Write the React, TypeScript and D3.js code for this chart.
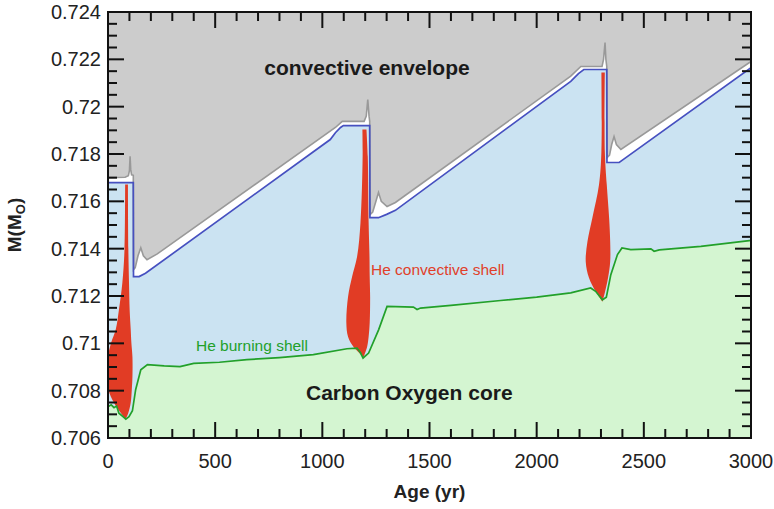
import React from "react";
import * as d3 from "d3";

// Thermal-pulse structure of an AGB star: mass coordinate vs age.

const ageTicks = [0, 500, 1000, 1500, 2000, 2500, 3000];
const massTicks = [0.706, 0.708, 0.71, 0.712, 0.714, 0.716, 0.718, 0.72, 0.722, 0.724];
const massTickLabels = ["0.706", "0.708", "0.71", "0.712", "0.714", "0.716", "0.718", "0.72", "0.722", "0.724"];

// Bottom of the convective envelope [age (yr), mass (Msun)]
const envelopeBase: [number, number][] = [
  [0, 0.717], [80, 0.71702], [95, 0.71708], [100, 0.7173], [103, 0.7179], [106, 0.71735],
  [110, 0.71712], [118, 0.7171], [119, 0.71311], [127, 0.7132], [140, 0.7137], [153, 0.71404],
  [165, 0.7137], [182, 0.71353], [230, 0.71378], [1061, 0.71912], [1093, 0.71938],
  [1195, 0.71938], [1205, 0.7196], [1212, 0.7203], [1218, 0.7196], [1221, 0.71938],
  [1223, 0.71544], [1235, 0.71555], [1250, 0.716], [1262, 0.71637], [1275, 0.716],
  [1302, 0.71578], [1341, 0.71595], [2159, 0.72129], [2206, 0.7217], [2305, 0.7217],
  [2312, 0.722], [2319, 0.72271], [2323, 0.722], [2327, 0.7217], [2329, 0.71785],
  [2340, 0.71795], [2350, 0.7184], [2361, 0.71874], [2372, 0.7184], [2393, 0.71819],
  [3000, 0.72191],
];

// H-free core boundary (hydrogen burning shell)
const hShell: [number, number][] = [
  [0, 0.71679], [118, 0.71679], [119, 0.71282], [145, 0.71282], [175, 0.71296],
  [1037, 0.71861], [1061, 0.7189], [1085, 0.71912], [1098, 0.7192], [1221, 0.7192],
  [1222, 0.71531], [1262, 0.71531], [1300, 0.71545], [1341, 0.71562], [2159, 0.72107],
  [2195, 0.7214], [2220, 0.72157], [2327, 0.72157], [2328, 0.71764], [2385, 0.71764],
  [2400, 0.71774], [3000, 0.72165],
];

// He burning shell (top of the C/O core)
const heShell: [number, number][] = [
  [0, 0.70732], [15, 0.7074], [28, 0.70728], [40, 0.70735], [51, 0.70705], [70, 0.7069],
  [83, 0.7068], [98, 0.7069], [114, 0.70715], [129, 0.70804], [153, 0.70888], [184, 0.7091],
  [262, 0.70905], [336, 0.70902], [400, 0.70915], [520, 0.7092], [648, 0.70931],
  [800, 0.7094], [958, 0.70952], [1115, 0.70977], [1162, 0.7098], [1178, 0.7096],
  [1190, 0.70938], [1216, 0.70959], [1263, 0.71058], [1302, 0.71156], [1425, 0.71153],
  [1442, 0.71143], [1458, 0.71149], [1600, 0.7116], [1832, 0.71181], [2000, 0.71195],
  [2159, 0.71213], [2252, 0.71234], [2275, 0.7122], [2307, 0.71184], [2325, 0.71195],
  [2346, 0.7129], [2377, 0.71375], [2398, 0.71403], [2439, 0.71396], [2533, 0.71399],
  [2548, 0.71389], [2572, 0.71395], [2766, 0.7141], [2992, 0.71434], [3000, 0.71435],
];

// He convective shells: [mass, start age, end age]
const pulse1: [number, number, number][] = [
  [0.70681, 83, 83], [0.70707, 59, 95], [0.70749, 28, 106], [0.70804, 2, 111],
  [0.70859, 0, 114], [0.70943, 0, 114], [0.71003, 15, 109], [0.71058, 36, 106],
  [0.71142, 51, 101], [0.71256, 67, 98], [0.71396, 77, 95], [0.71671, 80, 93],
];
const pulse2: [number, number, number][] = [
  [0.70943, 1193, 1193], [0.70986, 1145, 1209], [0.71028, 1120, 1216], [0.71087, 1112, 1221],
  [0.71197, 1120, 1223], [0.71282, 1139, 1221], [0.71366, 1162, 1220], [0.7151, 1178, 1216],
  [0.71789, 1188, 1212], [0.71903, 1187, 1206],
];
const pulse3: [number, number, number][] = [
  [0.71176, 2307, 2307], [0.71218, 2276, 2319], [0.71277, 2244, 2333], [0.71345, 2229, 2343],
  [0.7143, 2237, 2343], [0.71531, 2260, 2338], [0.71671, 2291, 2327], [0.7181, 2302, 2318],
  [0.72144, 2302, 2318],
];

const W = 774;
const H = 509;
const L = 108, R = 751, T = 12, B = 438;
const FONT = "'Liberation Sans', Arial, Helvetica, sans-serif";

export default function App() {
  const x = d3.scaleLinear().domain([0, 3000]).range([L, R]);
  const y = d3.scaleLinear().domain([0.706, 0.724]).range([B, T]);

  const above = d3.area<[number, number]>().x((d) => x(d[0])).y0(T - 5).y1((d) => y(d[1]));
  const below = d3.area<[number, number]>().x((d) => x(d[0])).y0(B + 5).y1((d) => y(d[1]));
  const line = d3.line<[number, number]>().x((d) => x(d[0])).y((d) => y(d[1]));
  const shell = d3
    .area<[number, number, number]>()
    .y((d) => y(d[0]))
    .x0((d) => x(d[1]))
    .x1((d) => x(d[2]))
    .curve(d3.curveCatmullRom.alpha(0.5));

  const xMinor = d3.range(0, 3001, 100);
  const yMinor = d3.range(0, 37).map((i) => 0.706 + i * 0.0005);
  const isMajorX = (v: number) => v % 500 === 0;
  const isMajorY = (v: number) => Math.abs((v - 0.706) / 0.002 - Math.round((v - 0.706) / 0.002)) < 1e-6;
  const MAJ = 16, MIN = 9;

  return (
    <svg width={W} height={H} style={{ display: "block", position: "absolute", left: 0, top: 0 }} fontFamily={FONT}>
      <defs>
        <clipPath id="plot">
          <rect x={L} y={T} width={R - L} height={B - T} />
        </clipPath>
      </defs>
      <rect width={W} height={H} fill="#fff" />
      <g clipPath="url(#plot)">
        <rect x={L} y={T} width={R - L} height={B - T} fill="#cbe3f2" />
        <path d={above(hShell) || ""} fill="#ffffff" />
        <path d={above(envelopeBase) || ""} fill="#cccccc" />
        <path d={below(heShell) || ""} fill="#d4f5d1" />
        {[pulse1, pulse2, pulse3].map((p, i) => (
          <path key={i} d={shell(p) || ""} fill="#e13c25" />
        ))}
        <path d={line(envelopeBase) || ""} fill="none" stroke="#999" strokeWidth={1.6} />
        <path d={line(hShell) || ""} fill="none" stroke="#4650c0" strokeWidth={1.7} />
        <path d={line(heShell) || ""} fill="none" stroke="#22a02a" strokeWidth={1.7} />
      </g>

      {/* ticks on all four sides, pointing inward */}
      <g stroke="#111" strokeWidth={2}>
        {xMinor.map((v) => {
          const len = isMajorX(v) ? MAJ : MIN;
          return (
            <g key={"x" + v}>
              <line x1={x(v)} x2={x(v)} y1={B} y2={B - len} />
              <line x1={x(v)} x2={x(v)} y1={T} y2={T + len} />
            </g>
          );
        })}
        {yMinor.map((v) => {
          const len = isMajorY(v) ? MAJ : MIN;
          return (
            <g key={"y" + v}>
              <line x1={L} x2={L + len} y1={y(v)} y2={y(v)} />
              <line x1={R} x2={R - len} y1={y(v)} y2={y(v)} />
            </g>
          );
        })}
      </g>
      <rect x={L} y={T} width={R - L} height={B - T} fill="none" stroke="#111" strokeWidth={2} />

      <g fontSize={20} fill="#222">
        {ageTicks.map((v) => (
          <text key={v} x={x(v)} y={B + 30} textAnchor="middle">{v}</text>
        ))}
        {massTicks.map((v, i) => (
          <text key={v} x={L - 7} y={y(v)} dy="0.35em" textAnchor="end">{massTickLabels[i]}</text>
        ))}
      </g>

      <text x={(L + R) / 2} y={498} textAnchor="middle" fontSize={19} fontWeight="bold" fill="#222">Age (yr)</text>
      <text transform={`translate(21, ${(T + B) / 2}) rotate(-90)`} textAnchor="middle" fontSize={19} fontWeight="bold" fill="#222">
        M(M<tspan fontSize={13} dy={4}>O</tspan><tspan dy={-4}>)</tspan>
      </text>

      <text x={367} y={75} textAnchor="middle" fontSize={21} fontWeight="bold" fill="#1a1a1a">convective envelope</text>
      <text x={306} y={400} fontSize={21} fontWeight="bold" fill="#1a1a1a">Carbon Oxygen core</text>
      <text x={371} y={275} fontSize={15.5} fill="#e0402a">He convective shell</text>
      <text x={196} y={351} fontSize={15.5} fill="#22a02a">He burning shell</text>
    </svg>
  );
}
